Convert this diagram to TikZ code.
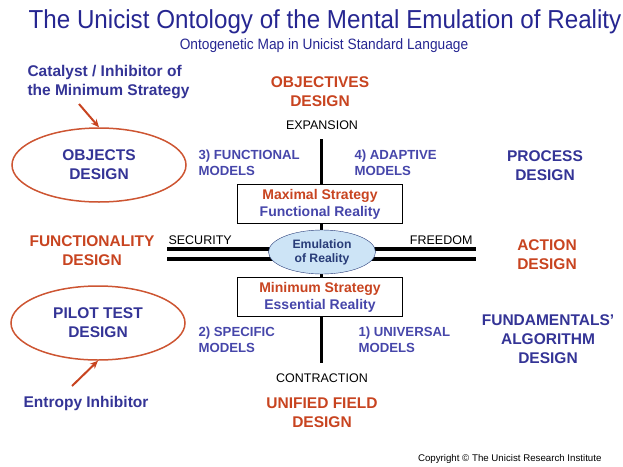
\documentclass[tikz,border=0pt]{standalone}
\usepackage{fontspec}
\setmainfont{Liberation Sans}
\newfontfamily\titlesf[FakeStretch=0.93]{Liberation Sans}
\newfontfamily\narrowsf[FakeStretch=0.915]{Liberation Sans}
\usetikzlibrary{arrows.meta,shapes.geometric}
\definecolor{titleblue}{RGB}{38,38,145}
\definecolor{deepblue}{RGB}{52,52,150}
\definecolor{modelblue}{RGB}{70,70,170}
\definecolor{rust}{RGB}{200,68,32}
\definecolor{ovalred}{RGB}{205,85,50}
\definecolor{mistblue}{RGB}{205,228,246}
\definecolor{rimblue}{RGB}{40,60,120}
\tikzset{
  >={Stealth[length=8pt,width=7pt]},
  head/.style={font=\bfseries\fontsize{15.5}{19}\selectfont,text=rust,align=center},
  part/.style={font=\bfseries\fontsize{15.5}{19}\selectfont,text=deepblue,align=center},
  model/.style={font=\bfseries\fontsize{13.2}{16}\selectfont,text=modelblue,align=left,anchor=west},
  pole/.style={font=\fontsize{12.5}{15}\selectfont},
  oval/.style={ellipse,draw=ovalred,line width=1.5pt,minimum width=174pt,minimum height=74pt,inner sep=0pt},
  strategy/.style={draw,fill=white,minimum width=165pt,minimum height=39pt,inner sep=0pt,
    align=center,font=\bfseries\fontsize{14}{17}\selectfont},
  pointer/.style={->,draw=rust,line width=2pt},
  axis/.style={line width=3pt},
  rail/.style={line width=4pt},
}

\begin{document}
\begin{tikzpicture}[x=1pt,y=-1pt]
  \useasboundingbox (0,0) rectangle (623,466);
  % titles
  \node[text=titleblue,font=\titlesf\fontsize{26}{28}\selectfont] (title) at (325,22)
    {The Unicist Ontology of the Mental Emulation of Reality};
  \node[text=titleblue,font=\narrowsf\fontsize{15}{18}\selectfont] (subtitle) at (324,46)
    {Ontogenetic Map in Unicist Standard Language};

  % axes
  \coordinate (top) at (321,139);
  \coordinate (bottom) at (321,363);
  \coordinate (west) at (167,254);
  \coordinate (east) at (476,254);
  \draw[axis] (top) -- (bottom);
  \draw[rail] ([yshift=-5pt]west) -- ([yshift=-5pt]east);
  \draw[rail] ([yshift=5pt]west) -- ([yshift=5pt]east);

  \node[strategy] (maximal) at (320,204)
    {\textcolor{rust}{Maximal Strategy}\\\textcolor{modelblue}{Functional Reality}};
  \node[strategy] (minimum) at (320,297)
    {\textcolor{rust}{Minimum Strategy}\\\textcolor{modelblue}{Essential Reality}};
  \node[ellipse,draw=rimblue,fill=mistblue,minimum width=107pt,minimum height=44pt,inner sep=0pt,
    align=center,text=rimblue,font=\bfseries\fontsize{12.2}{14}\selectfont] (emulation) at (322,252)
    {Emulation\\of Reality};

  \node[pole,anchor=west] (security) at (165,240) {SECURITY};
  \node[pole,anchor=east] (freedom) at (476,240) {FREEDOM};
  \node[pole] (expansion) at (322,125) {EXPANSION};
  \node[pole] (contraction) at (322,378) {CONTRACTION};

  % quadrants
  \node[model] (functional) at (195,163) {3) FUNCTIONAL\\MODELS};
  \node[model] (adaptive) at (351,163) {4) ADAPTIVE\\MODELS};
  \node[model] (specific) at (195,340) {2) SPECIFIC\\MODELS};
  \node[model] (universal) at (355,340) {1) UNIVERSAL\\MODELS};

  % designs
  \node[head] (objectives) at (320,92) {OBJECTIVES\\DESIGN};
  \node[head] (unified) at (322,413) {UNIFIED FIELD\\DESIGN};
  \node[head] (functionality) at (92,251) {FUNCTIONALITY\\DESIGN};
  \node[head] (action) at (547,255) {ACTION\\DESIGN};
  \node[part] (process) at (545,166) {PROCESS\\DESIGN};
  \node[part] (fundamentals) at (548,339) {FUNDAMENTALS'\\ALGORITHM\\DESIGN};

  \node[oval] (objects) at (99,165) {};
  \node[part] at (objects) {OBJECTS\\DESIGN};
  \node[oval] (pilot) at (98,323) {};
  \node[part] at (pilot) {PILOT TEST\\DESIGN};

  \node[part,align=left,anchor=west] (catalyst) at (24,82) {Catalyst / Inhibitor of\\the Minimum Strategy};
  \node[part] (entropy) at (86,403) {Entropy Inhibitor};
  \coordinate (catalyst tail) at (79,104);
  \coordinate (entropy tail) at (72,386);
  \draw[pointer] (catalyst tail) -- (objects.north);
  \draw[pointer] (entropy tail) -- (pilot.south);

  \node[anchor=east,font=\fontsize{9.7}{11}\selectfont] (copyright) at (605,459)
    {Copyright \textcopyright\ The Unicist Research Institute};
\end{tikzpicture}
\end{document}
